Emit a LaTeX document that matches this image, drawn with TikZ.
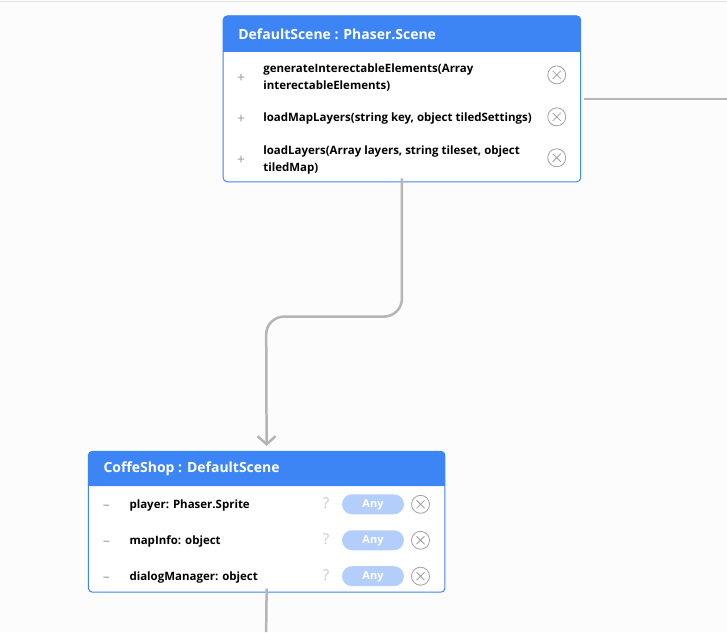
\documentclass[tikz,border=0pt]{standalone}
\usepackage{fontspec}
\setmainfont{Noto Sans}
\newfontfamily\semibold{Open Sans}
\usetikzlibrary{arrows.meta,positioning}

\definecolor{hdrblue}{HTML}{3D85F5}
\definecolor{linkgray}{HTML}{B5B5B5}
\definecolor{signgray}{HTML}{A0A0A0}
\definecolor{pillblue}{HTML}{B3CEFA}
\definecolor{bggray}{HTML}{FCFCFC}

\tikzset{
  classbox/.style={draw=hdrblue, line width=1pt, fill=white, rounded corners=4pt, inner sep=0pt},
  classhdr/.style={fill=hdrblue, rounded corners=4pt, inner sep=0pt},
  title/.style={anchor=west, text=white, font=\semibold\bfseries\fontsize{14}{17}\selectfont, inner sep=0pt},
  member/.style={anchor=west, align=left, font=\semibold\bfseries\fontsize{11.5}{17}\selectfont, inner sep=0pt},
  sign/.style={text=signgray, font=\fontsize{14}{16}\selectfont, inner sep=0pt},
  hint/.style={text=black!20, font=\fontsize{15}{17}\selectfont, inner sep=0pt},
  anybtn/.style={fill=pillblue, rounded corners=10pt, minimum width=62pt, minimum height=20pt,
    text=white, text height=8pt, text depth=1pt, font=\semibold\bfseries\fontsize{11}{13}\selectfont, inner sep=0pt},
  closebtn/.style={circle, draw=signgray, line width=0.8pt, minimum size=18pt, inner sep=0pt,
    path picture={\draw[signgray, line width=0.8pt] (path picture bounding box.center) ++(-4,-4) -- ++(8,8)
      (path picture bounding box.center) ++(-4,4) -- ++(8,-8);}},
  link/.style={draw=linkgray, line width=2.5pt, rounded corners=18pt}
}

\begin{document}
\begin{tikzpicture}[x=1pt, y=-1pt]
  % page
  \fill[bggray] (0,0) rectangle (727,633);
  \draw[black!12, line width=1pt] (0,1) -- (727,1);
  \useasboundingbox (0,0) rectangle (727,633);

  % DefaultScene : Phaser.Scene
  \node[classbox, minimum width=358pt, minimum height=166pt] (defaultscene) at (402,99) {};
  \node[classhdr, minimum width=358pt, minimum height=36pt, anchor=north] (dshdr) at (defaultscene.north) {};
  \fill[hdrblue] (223,40) rectangle (581,52);
  \node[title] (dstitle) at (238,34.5) {DefaultScene : Phaser.Scene};
  \node[sign] (dsp1) at (241,78) {+};
  \node[sign] (dsp2) at (241,119) {+};
  \node[sign] (dsp3) at (241,161) {+};
  \node[member] (dsm1) at (263,78) {generateInterectableElements(Array\\interectableElements)};
  \node[member] (dsm2) at (263,119) {loadMapLayers(string key, object tiledSettings)};
  \node[member] (dsm3) at (263,160) {loadLayers(Array layers, string tileset, object\\tiledMap)};
  \node[closebtn] (dsx1) at (557,75) {};
  \node[closebtn] (dsx2) at (557,117) {};
  \node[closebtn] (dsx3) at (557,158) {};

  % CoffeShop : DefaultScene
  \node[classbox, minimum width=357pt, minimum height=141pt] (coffeshop) at (266.5,522.5) {};
  \node[classhdr, minimum width=357pt, minimum height=35pt, anchor=north] (cshdr) at (coffeshop.north) {};
  \fill[hdrblue] (88,475) rectangle (445,487);
  \node[title] (cstitle) at (103,469.5) {CoffeShop : DefaultScene};
  \foreach \y/\txt [count=\i] in {504/player: Phaser.Sprite, 540/mapInfo: object, 576/dialogManager: object} {
    \node[sign] (csm\i-sign) at (106,\y+4) {\textendash};
    \node[member] (csm\i) at (129,\y+2) {\txt};
    \node[hint] (csm\i-hint) at (326,\y) {?};
    \node[anybtn] (csm\i-any) at (373,\y+1) {Any};
    \node[closebtn, right=7pt of csm\i-any] (csm\i-x) {};
  }

  % connectors
  \coordinate (rightend) at (727,99);
  \coordinate (bottomend) at (266,633);
  \coordinate (bend) at (266,317);
  \path[link] (defaultscene.east) ++(3,0) -- (rightend);
  \path[link, -{Straight Barb[length=8pt, width=18pt, line width=2.5pt]}, shorten >=5pt]
    ([yshift=4pt]defaultscene.south) |- (bend) -- (coffeshop.north);
  \path[link] ([yshift=4pt]coffeshop.south) -- (bottomend);
\end{tikzpicture}
\end{document}
